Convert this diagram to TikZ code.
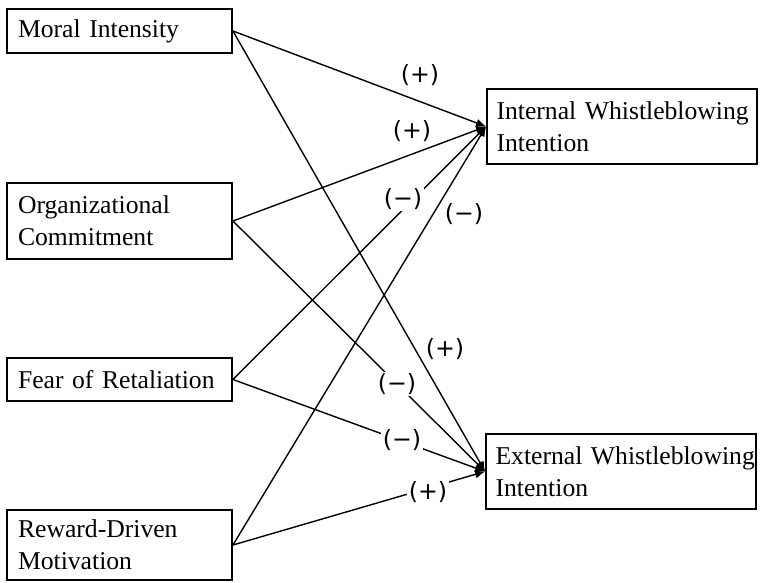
\documentclass[tikz,border=0pt]{standalone}
\usepackage{fontspec}
\setmainfont{Liberation Serif}
\newfontfamily\signfont{DejaVu Sans}
\usepackage{tikz}
\usetikzlibrary{arrows.meta, positioning}
\tikzset{
  varbox/.style={
    draw, line width=1.1pt, align=left, fill=white,
    font=\fontsize{14.6}{18.2}\selectfont, inner xsep=0.22cm
  },
  leftbox/.style={
    varbox, text width=4.06cm
  },
  rightbox/.style={
    varbox, inner xsep=0.19cm, text width=5.02cm, minimum height=1.5cm
  },
  patharrow/.style={
    -{Latex[length=2mm, width=1.7mm]}, line width=0.8pt
  },
  signlabel/.style={
    font=\signfont\fontsize{13.5}{16}\selectfont, fill=white,
    inner sep=1pt
  },
}

\begin{document}
\begin{tikzpicture}[x=0.02cm, y=-0.02cm]
  \useasboundingbox (0,0) rectangle (760,582);

  % ---- PREDICTORS ----
  \node[leftbox, minimum height=0.88cm] (moral) at (119.5, 31) {Moral Intensity};
  \node[leftbox, minimum height=1.52cm] (commit) at (119.5, 221)
    {Organizational\\Commitment};
  \node[leftbox, minimum height=0.86cm] (fear) at (119.5, 379.5)
    {Fear of Retaliation};
  \node[leftbox, minimum height=1.4cm] (reward) at (119.5, 545)
    {Reward-Driven\\Motivation};

  % ---- OUTCOMES ----
  \node[rightbox] (intern) at (622, 126.5)
    {\mbox{Internal Whistleblowing}\\Intention};
  \node[rightbox] (extern) at (621, 471.5)
    {\mbox{External Whistleblowing}\\Intention};

  % Paths to internal whistleblowing
  \draw[patharrow] (moral.east) -- (intern.west);
  \draw[patharrow] (commit.east) -- (intern.west);
  \draw[patharrow] (fear.east) -- (intern.west);
  \draw[patharrow] (reward.east) -- (intern.west);

  % Paths to external whistleblowing
  \draw[patharrow] (moral.east) -- (extern.west);
  \draw[patharrow] (commit.east) -- (extern.west);
  \draw[patharrow] (fear.east) -- (extern.west);
  \draw[patharrow] (reward.east) -- (extern.west);

  % Signs of the paths
  \node[signlabel] (s1) at (420, 75) {(+)};
  \node[signlabel] (s2) at (412, 131) {(+)};
  \node[signlabel] (s3) at (403, 199) {(−)};
  \node[signlabel] (s4) at (464, 214) {(−)};
  \node[signlabel] (s5) at (445, 349) {(+)};
  \node[signlabel] (s6) at (397, 384) {(−)};
  \node[signlabel] (s7) at (402, 440) {(−)};
  \node[signlabel] (s8) at (428, 492) {(+)};
\end{tikzpicture}
\end{document}
